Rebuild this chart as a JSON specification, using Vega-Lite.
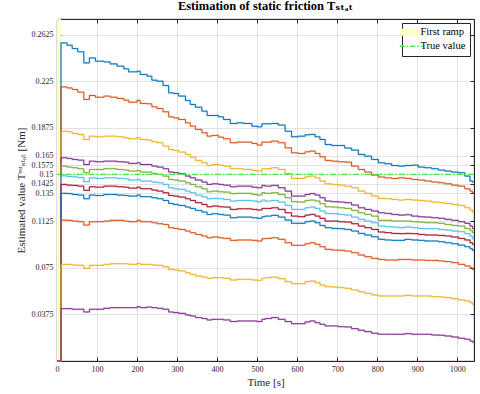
{
 "$schema": "https://vega.github.io/schema/vega-lite/v6.json",
 "width": 417,
 "height": 342,
 "autosize": {"type": "none"},
 "padding": {"left": 57, "top": 19, "right": 6, "bottom": 33},
 "background": "white",
 "config": {"view": {"stroke": "#262626", "strokeWidth": 0.8}, "font": "Liberation Serif"},
 "title": {"text": "Estimation of static friction Tₛₜₐₜ", "font": "Liberation Serif, DejaVu Serif", "fontSize": 12.5, "fontWeight": "bold", "color": "#000000", "offset": 6, "anchor": "middle"},
 "datasets": {
  "est": [
   {"t":0,"a":0,"b":0,"c":0,"d":0,"e":0,"f":0,"g":0,"h":0,"i":0,"j":0,"k":0},
   {"t":10,"a":0.2558,"b":0.2204,"c":0.1848,"d":0.1634,"e":0.1567,"f":0.1489,"g":0.1420,"h":0.1348,"i":0.1133,"j":0.0777,"k":0.0421},
   {"t":25,"a":0.2539,"b":0.2196,"c":0.1843,"d":0.1629,"e":0.1559,"f":0.1484,"g":0.1414,"h":0.1346,"i":0.1131,"j":0.0777,"k":0.0421},
   {"t":38,"a":0.2512,"b":0.2183,"c":0.1830,"d":0.1621,"e":0.1554,"f":0.1481,"g":0.1412,"h":0.1339,"i":0.1125,"j":0.0772,"k":0.0416},
   {"t":52,"a":0.2486,"b":0.2162,"c":0.1821,"d":0.1615,"e":0.1546,"f":0.1476,"g":0.1406,"h":0.1334,"i":0.1120,"j":0.0769,"k":0.0416},
   {"t":67,"a":0.2397,"b":0.2103,"c":0.1781,"d":0.1580,"e":0.1514,"f":0.1441,"g":0.1372,"h":0.1305,"i":0.1093,"j":0.0745,"k":0.0394},
   {"t":81,"a":0.2437,"b":0.2135,"c":0.1808,"d":0.1607,"e":0.1540,"f":0.1473,"g":0.1401,"h":0.1334,"i":0.1120,"j":0.0769,"k":0.0416},
   {"t":96,"a":0.2411,"b":0.2121,"c":0.1803,"d":0.1602,"e":0.1540,"f":0.1468,"g":0.1398,"h":0.1331,"i":0.1120,"j":0.0769,"k":0.0416},
   {"t":117,"a":0.2405,"b":0.2130,"c":0.1808,"d":0.1607,"e":0.1546,"f":0.1473,"g":0.1406,"h":0.1339,"i":0.1125,"j":0.0777,"k":0.0424},
   {"t":133,"a":0.2389,"b":0.2121,"c":0.1808,"d":0.1607,"e":0.1546,"f":0.1473,"g":0.1406,"h":0.1339,"i":0.1131,"j":0.0782,"k":0.0429},
   {"t":150,"a":0.2371,"b":0.2111,"c":0.1803,"d":0.1602,"e":0.1540,"f":0.1468,"g":0.1401,"h":0.1334,"i":0.1131,"j":0.0782,"k":0.0429},
   {"t":167,"a":0.2349,"b":0.2097,"c":0.1795,"d":0.1599,"e":0.1535,"f":0.1465,"g":0.1398,"h":0.1331,"i":0.1125,"j":0.0782,"k":0.0429},
   {"t":179,"a":0.2325,"b":0.2081,"c":0.1787,"d":0.1589,"e":0.1527,"f":0.1455,"g":0.1390,"h":0.1326,"i":0.1120,"j":0.0777,"k":0.0429},
   {"t":200,"a":0.2330,"b":0.2095,"c":0.1795,"d":0.1594,"e":0.1532,"f":0.1460,"g":0.1398,"h":0.1334,"i":0.1131,"j":0.0785,"k":0.0437},
   {"t":208,"a":0.2304,"b":0.2071,"c":0.1781,"d":0.1580,"e":0.1519,"f":0.1447,"g":0.1385,"h":0.1321,"i":0.1120,"j":0.0777,"k":0.0429},
   {"t":225,"a":0.2290,"b":0.2068,"c":0.1776,"d":0.1580,"e":0.1519,"f":0.1447,"g":0.1385,"h":0.1321,"i":0.1120,"j":0.0777,"k":0.0434},
   {"t":237,"a":0.2258,"b":0.2044,"c":0.1763,"d":0.1567,"e":0.1508,"f":0.1439,"g":0.1374,"h":0.1313,"i":0.1112,"j":0.0772,"k":0.0429},
   {"t":250,"a":0.2250,"b":0.2030,"c":0.1755,"d":0.1559,"e":0.1500,"f":0.1433,"g":0.1366,"h":0.1305,"i":0.1104,"j":0.0769,"k":0.0424},
   {"t":265,"a":0.2215,"b":0.2004,"c":0.1728,"d":0.1546,"e":0.1487,"f":0.1420,"g":0.1353,"h":0.1291,"i":0.1098,"j":0.0758,"k":0.0416},
   {"t":279,"a":0.2156,"b":0.1963,"c":0.1701,"d":0.1519,"e":0.1460,"f":0.1393,"g":0.1331,"h":0.1267,"i":0.1072,"j":0.0737,"k":0.0394},
   {"t":291,"a":0.2151,"b":0.1955,"c":0.1693,"d":0.1514,"e":0.1455,"f":0.1385,"g":0.1326,"h":0.1259,"i":0.1066,"j":0.0732,"k":0.0389},
   {"t":304,"a":0.2130,"b":0.1942,"c":0.1680,"d":0.1506,"e":0.1447,"f":0.1380,"g":0.1318,"h":0.1251,"i":0.1058,"j":0.0724,"k":0.0383},
   {"t":321,"a":0.2095,"b":0.1915,"c":0.1661,"d":0.1487,"e":0.1433,"f":0.1366,"g":0.1305,"h":0.1238,"i":0.1045,"j":0.0710,"k":0.0370},
   {"t":333,"a":0.2063,"b":0.1888,"c":0.1639,"d":0.1473,"e":0.1420,"f":0.1353,"g":0.1291,"h":0.1227,"i":0.1032,"j":0.0697,"k":0.0362},
   {"t":346,"a":0.2041,"b":0.1862,"c":0.1613,"d":0.1455,"e":0.1401,"f":0.1334,"g":0.1273,"h":0.1211,"i":0.1018,"j":0.0683,"k":0.0349},
   {"t":362,"a":0.2009,"b":0.1835,"c":0.1594,"d":0.1439,"e":0.1385,"f":0.1321,"g":0.1259,"h":0.1198,"i":0.1005,"j":0.0675,"k":0.0341},
   {"t":375,"a":0.1974,"b":0.1808,"c":0.1572,"d":0.1420,"e":0.1361,"f":0.1305,"g":0.1240,"h":0.1179,"i":0.0991,"j":0.0665,"k":0.0330},
   {"t":387,"a":0.1974,"b":0.1814,"c":0.1580,"d":0.1425,"e":0.1366,"f":0.1307,"g":0.1246,"h":0.1184,"i":0.0997,"j":0.0670,"k":0.0335},
   {"t":404,"a":0.1963,"b":0.1800,"c":0.1575,"d":0.1420,"e":0.1361,"f":0.1305,"g":0.1240,"h":0.1179,"i":0.0991,"j":0.0670,"k":0.0335},
   {"t":416,"a":0.1942,"b":0.1787,"c":0.1567,"d":0.1414,"e":0.1358,"f":0.1299,"g":0.1238,"h":0.1173,"i":0.0986,"j":0.0665,"k":0.0330},
   {"t":433,"a":0.1910,"b":0.1755,"c":0.1546,"d":0.1401,"e":0.1346,"f":0.1286,"g":0.1219,"h":0.1152,"i":0.0970,"j":0.0651,"k":0.0317},
   {"t":450,"a":0.1915,"b":0.1760,"c":0.1546,"d":0.1406,"e":0.1348,"f":0.1291,"g":0.1224,"h":0.1157,"i":0.0973,"j":0.0657,"k":0.0322},
   {"t":466,"a":0.1910,"b":0.1760,"c":0.1540,"d":0.1406,"e":0.1348,"f":0.1291,"g":0.1224,"h":0.1157,"i":0.0973,"j":0.0657,"k":0.0322},
   {"t":487,"a":0.1888,"b":0.1749,"c":0.1532,"d":0.1398,"e":0.1339,"f":0.1286,"g":0.1219,"h":0.1152,"i":0.0970,"j":0.0651,"k":0.0322},
   {"t":500,"a":0.1883,"b":0.1736,"c":0.1527,"d":0.1393,"e":0.1334,"f":0.1281,"g":0.1214,"h":0.1147,"i":0.0965,"j":0.0649,"k":0.0317},
   {"t":512,"a":0.1907,"b":0.1760,"c":0.1546,"d":0.1412,"e":0.1353,"f":0.1294,"g":0.1227,"h":0.1160,"i":0.0983,"j":0.0665,"k":0.0335},
   {"t":520,"a":0.1907,"b":0.1760,"c":0.1546,"d":0.1406,"e":0.1348,"f":0.1286,"g":0.1227,"h":0.1165,"i":0.0986,"j":0.0670,"k":0.0341},
   {"t":536,"a":0.1910,"b":0.1768,"c":0.1554,"d":0.1412,"e":0.1353,"f":0.1291,"g":0.1232,"h":0.1171,"i":0.0991,"j":0.0675,"k":0.0349},
   {"t":553,"a":0.1897,"b":0.1755,"c":0.1540,"d":0.1393,"e":0.1339,"f":0.1278,"g":0.1219,"h":0.1157,"i":0.0978,"j":0.0662,"k":0.0335},
   {"t":570,"a":0.1848,"b":0.1714,"c":0.1508,"d":0.1366,"e":0.1313,"f":0.1251,"g":0.1192,"h":0.1133,"i":0.0951,"j":0.0638,"k":0.0317},
   {"t":586,"a":0.1803,"b":0.1674,"c":0.1468,"d":0.1326,"e":0.1281,"f":0.1219,"g":0.1165,"h":0.1107,"i":0.0930,"j":0.0622,"k":0.0300},
   {"t":603,"a":0.1808,"b":0.1669,"c":0.1468,"d":0.1326,"e":0.1278,"f":0.1219,"g":0.1160,"h":0.1107,"i":0.0930,"j":0.0622,"k":0.0300},
   {"t":620,"a":0.1819,"b":0.1682,"c":0.1481,"d":0.1339,"e":0.1291,"f":0.1232,"g":0.1173,"h":0.1120,"i":0.0943,"j":0.0638,"k":0.0314},
   {"t":632,"a":0.1822,"b":0.1688,"c":0.1487,"d":0.1346,"e":0.1294,"f":0.1238,"g":0.1179,"h":0.1125,"i":0.0951,"j":0.0643,"k":0.0322},
   {"t":645,"a":0.1803,"b":0.1669,"c":0.1473,"d":0.1334,"e":0.1286,"f":0.1227,"g":0.1165,"h":0.1112,"i":0.0938,"j":0.0630,"k":0.0308},
   {"t":657,"a":0.1781,"b":0.1642,"c":0.1447,"d":0.1313,"e":0.1265,"f":0.1206,"g":0.1147,"h":0.1090,"i":0.0919,"j":0.0611,"k":0.0295},
   {"t":670,"a":0.1741,"b":0.1613,"c":0.1425,"d":0.1286,"e":0.1240,"f":0.1187,"g":0.1125,"h":0.1072,"i":0.0898,"j":0.0598,"k":0.0282},
   {"t":686,"a":0.1733,"b":0.1607,"c":0.1420,"d":0.1281,"e":0.1238,"f":0.1184,"g":0.1125,"h":0.1066,"i":0.0892,"j":0.0595,"k":0.0282},
   {"t":703,"a":0.1733,"b":0.1602,"c":0.1414,"d":0.1278,"e":0.1232,"f":0.1179,"g":0.1120,"h":0.1064,"i":0.0890,"j":0.0590,"k":0.0276},
   {"t":719,"a":0.1712,"b":0.1599,"c":0.1406,"d":0.1273,"e":0.1227,"f":0.1173,"g":0.1117,"h":0.1058,"i":0.0884,"j":0.0584,"k":0.0274},
   {"t":736,"a":0.1696,"b":0.1567,"c":0.1393,"d":0.1254,"e":0.1211,"f":0.1157,"g":0.1104,"h":0.1045,"i":0.0871,"j":0.0571,"k":0.0260},
   {"t":753,"a":0.1661,"b":0.1540,"c":0.1366,"d":0.1232,"e":0.1192,"f":0.1139,"g":0.1085,"h":0.1026,"i":0.0852,"j":0.0557,"k":0.0247},
   {"t":769,"a":0.1647,"b":0.1519,"c":0.1348,"d":0.1219,"e":0.1179,"f":0.1125,"g":0.1072,"h":0.1013,"i":0.0839,"j":0.0544,"k":0.0236},
   {"t":786,"a":0.1621,"b":0.1495,"c":0.1326,"d":0.1206,"e":0.1165,"f":0.1112,"g":0.1058,"h":0.0999,"i":0.0825,"j":0.0531,"k":0.0223},
   {"t":803,"a":0.1594,"b":0.1479,"c":0.1307,"d":0.1192,"e":0.1131,"f":0.1085,"g":0.1037,"h":0.0978,"i":0.0817,"j":0.0523,"k":0.0215},
   {"t":819,"a":0.1586,"b":0.1473,"c":0.1305,"d":0.1187,"e":0.1131,"f":0.1080,"g":0.1032,"h":0.0973,"i":0.0812,"j":0.0523,"k":0.0215},
   {"t":836,"a":0.1572,"b":0.1468,"c":0.1299,"d":0.1179,"e":0.1125,"f":0.1077,"g":0.1026,"h":0.0970,"i":0.0812,"j":0.0523,"k":0.0215},
   {"t":853,"a":0.1567,"b":0.1473,"c":0.1294,"d":0.1173,"e":0.1125,"f":0.1072,"g":0.1024,"h":0.0970,"i":0.0817,"j":0.0523,"k":0.0215},
   {"t":869,"a":0.1572,"b":0.1468,"c":0.1299,"d":0.1176,"e":0.1125,"f":0.1077,"g":0.1026,"h":0.0978,"i":0.0817,"j":0.0528,"k":0.0220},
   {"t":886,"a":0.1575,"b":0.1460,"c":0.1294,"d":0.1165,"e":0.1120,"f":0.1072,"g":0.1024,"h":0.0973,"i":0.0812,"j":0.0523,"k":0.0215},
   {"t":903,"a":0.1559,"b":0.1455,"c":0.1291,"d":0.1160,"e":0.1117,"f":0.1066,"g":0.1018,"h":0.0970,"i":0.0812,"j":0.0523,"k":0.0215},
   {"t":919,"a":0.1554,"b":0.1447,"c":0.1286,"d":0.1157,"e":0.1112,"f":0.1064,"g":0.1013,"h":0.0965,"i":0.0809,"j":0.0523,"k":0.0215},
   {"t":936,"a":0.1546,"b":0.1439,"c":0.1278,"d":0.1152,"e":0.1112,"f":0.1064,"g":0.1013,"h":0.0965,"i":0.0809,"j":0.0517,"k":0.0209},
   {"t":953,"a":0.1535,"b":0.1433,"c":0.1273,"d":0.1147,"e":0.1107,"f":0.1058,"g":0.1010,"h":0.0959,"i":0.0804,"j":0.0515,"k":0.0207},
   {"t":969,"a":0.1527,"b":0.1425,"c":0.1267,"d":0.1139,"e":0.1098,"f":0.1053,"g":0.1005,"h":0.0951,"i":0.0799,"j":0.0509,"k":0.0201},
   {"t":986,"a":0.1519,"b":0.1414,"c":0.1259,"d":0.1131,"e":0.1090,"f":0.1045,"g":0.0997,"h":0.0943,"i":0.0791,"j":0.0501,"k":0.0193},
   {"t":1003,"a":0.1514,"b":0.1406,"c":0.1251,"d":0.1120,"e":0.1085,"f":0.1040,"g":0.0986,"h":0.0932,"i":0.0777,"j":0.0491,"k":0.0183},
   {"t":1019,"a":0.1487,"b":0.1385,"c":0.1232,"d":0.1107,"e":0.1066,"f":0.1024,"g":0.0973,"h":0.0919,"i":0.0764,"j":0.0483,"k":0.0175},
   {"t":1032,"a":0.1447,"b":0.1366,"c":0.1214,"d":0.1085,"e":0.1050,"f":0.1005,"g":0.0951,"h":0.0903,"i":0.0750,"j":0.0469,"k":0.0161},
   {"t":1038,"a":0.1439,"b":0.1353,"c":0.1198,"d":0.1066,"e":0.1032,"f":0.0983,"g":0.0938,"h":0.0890,"i":0.0737,"j":0.0456,"k":0.0153},
   {"t":1042,"a":0.1439,"b":0.1353,"c":0.1198,"d":0.1066,"e":0.1032,"f":0.0983,"g":0.0938,"h":0.0890,"i":0.0737,"j":0.0456,"k":0.0153}
  ]
 },
 "layer": [
  {
   "data": {"values": [{"x0": 0, "x1": 10, "lab": "First ramp"}]},
   "mark": {"type": "rect"},
   "encoding": {
    "x": {"field": "x0", "type": "quantitative", "scale": {"domain": [0, 1042], "nice": false, "zero": false},
      "axis": {"orient": "top", "values": [0,100,200,300,400,500,600,700,800,900,1000], "labels": false, "grid": false, "title": null, "tickSize": -4, "tickColor": "#262626", "domainColor": "#262626"}},
    "x2": {"field": "x1"},
    "color": {"field": "lab", "type": "nominal",
      "scale": {"domain": ["First ramp", "True value"], "range": ["#FFFFCC", "#3DF03D"]},
      "legend": {"orient": "top-right", "offset": 4, "title": null, "symbolSize": 529, "symbolStrokeWidth": 1.2,
        "labelFont": "Liberation Serif", "labelFontSize": 10.5, "labelColor": "#000000", "labelOffset": 4,
        "strokeColor": "#262626", "fillColor": "#FFFFFF", "padding": 4, "rowPadding": 3,
        "encode": {"symbols": {"update": {
          "shape": {"signal": "datum.value === 'First ramp' ? 'M-1,-0.3H1V0.3H-1Z' : 'M-1,0H1'"},
          "fill": {"signal": "datum.value === 'First ramp' ? '#FFFFCC' : 'transparent'"},
          "strokeWidth": {"signal": "datum.value === 'First ramp' ? 0 : 1.3"},
          "strokeDash": {"signal": "datum.value === 'First ramp' ? [] : [5, 2, 1.5, 2]"},
          "stroke": {"signal": "datum.value === 'First ramp' ? 'transparent' : '#3DF03D'"}
        }}}}
    }
   }
  },
  {
   "data": {"name": "est"},
   "transform": [{"fold": ["a","b","c","d","e","f","g","h","i","j","k"], "as": ["s", "v"]}],
   "mark": {"type": "line", "interpolate": "step-after", "strokeWidth": 2, "opacity": 0.22},
   "encoding": {
    "x": {"field": "t", "type": "quantitative", "axis": null},
    "y": {"field": "v", "type": "quantitative", "axis": null},
    "stroke": {"field": "s", "type": "nominal", "legend": null}
   }
  },
  {
   "data": {"name": "est"},
   "transform": [{"fold": ["a","b","c","d","e","f","g","h","i","j","k"], "as": ["s", "v"]}],
   "mark": {"type": "line", "interpolate": "step-after", "strokeWidth": 1},
   "encoding": {
    "x": {"field": "t", "type": "quantitative",
      "axis": {"orient": "bottom", "values": [0,100,200,300,400,500,600,700,800,900,1000], "format": "d", "title": "Time [s]",
        "titleFont": "Liberation Serif", "titleFontSize": 11, "titleFontWeight": "normal", "titleColor": "#262626", "titlePadding": 3,
        "labelFont": "Liberation Serif", "labelFontSize": 8, "labelColor": "#262626", "labelPadding": 8, "labelFlush": false, "labelOverlap": false,
        "tickSize": -4, "tickColor": "#262626", "domainColor": "#262626", "grid": true, "gridColor": "#E2E2E2"}},
    "y": {"field": "v", "type": "quantitative", "scale": {"domain": [0, 0.275], "nice": false, "zero": false},
      "axis": {"orient": "left", "values": [0.0375, 0.075, 0.1125, 0.135, 0.1425, 0.15, 0.1575, 0.165, 0.1875, 0.225, 0.2625],
        "labelExpr": "'' + datum.value", "title": "Estimated value Tᵉˢᵗₛₜₐₜ [Nm]",
        "titleFont": "Liberation Serif, DejaVu Serif", "titleFontSize": 11, "titleFontWeight": "normal", "titleColor": "#262626", "titlePadding": 5,
        "labelFont": "Liberation Serif", "labelFontSize": 8, "labelColor": "#262626", "labelPadding": 8, "labelFlush": false, "labelOverlap": false,
        "tickSize": -4, "tickColor": "#262626", "domainColor": "#262626", "grid": true, "gridColor": "#E2E2E2"}},
    "stroke": {"field": "s", "type": "nominal",
      "scale": {"domain": ["a","b","c","d","e","f","g","h","i","j","k"],
        "range": ["#0072BD","#D95319","#EDB120","#7E2F8E","#77AC30","#4DBEEE","#A2142F","#0072BD","#D95319","#EDB120","#7E2F8E"]},
      "legend": null}
   }
  },
  {
   "data": {"values": [{"y": 0.15, "lab": "True value"}]},
   "mark": {"type": "rule", "strokeDash": [6, 2, 1.5, 2], "strokeWidth": 1.2},
   "encoding": {
    "y": {"field": "y", "type": "quantitative",
      "axis": {"orient": "right", "values": [0.0375, 0.075, 0.1125, 0.135, 0.1425, 0.15, 0.1575, 0.165, 0.1875, 0.225, 0.2625], "labels": false, "grid": false, "title": null, "tickSize": -4, "tickColor": "#262626", "domainColor": "#262626"}},
    "color": {"field": "lab", "type": "nominal"}
   }
  }
 ],
 "resolve": {"axis": {"x": "independent", "y": "independent"}}
}
